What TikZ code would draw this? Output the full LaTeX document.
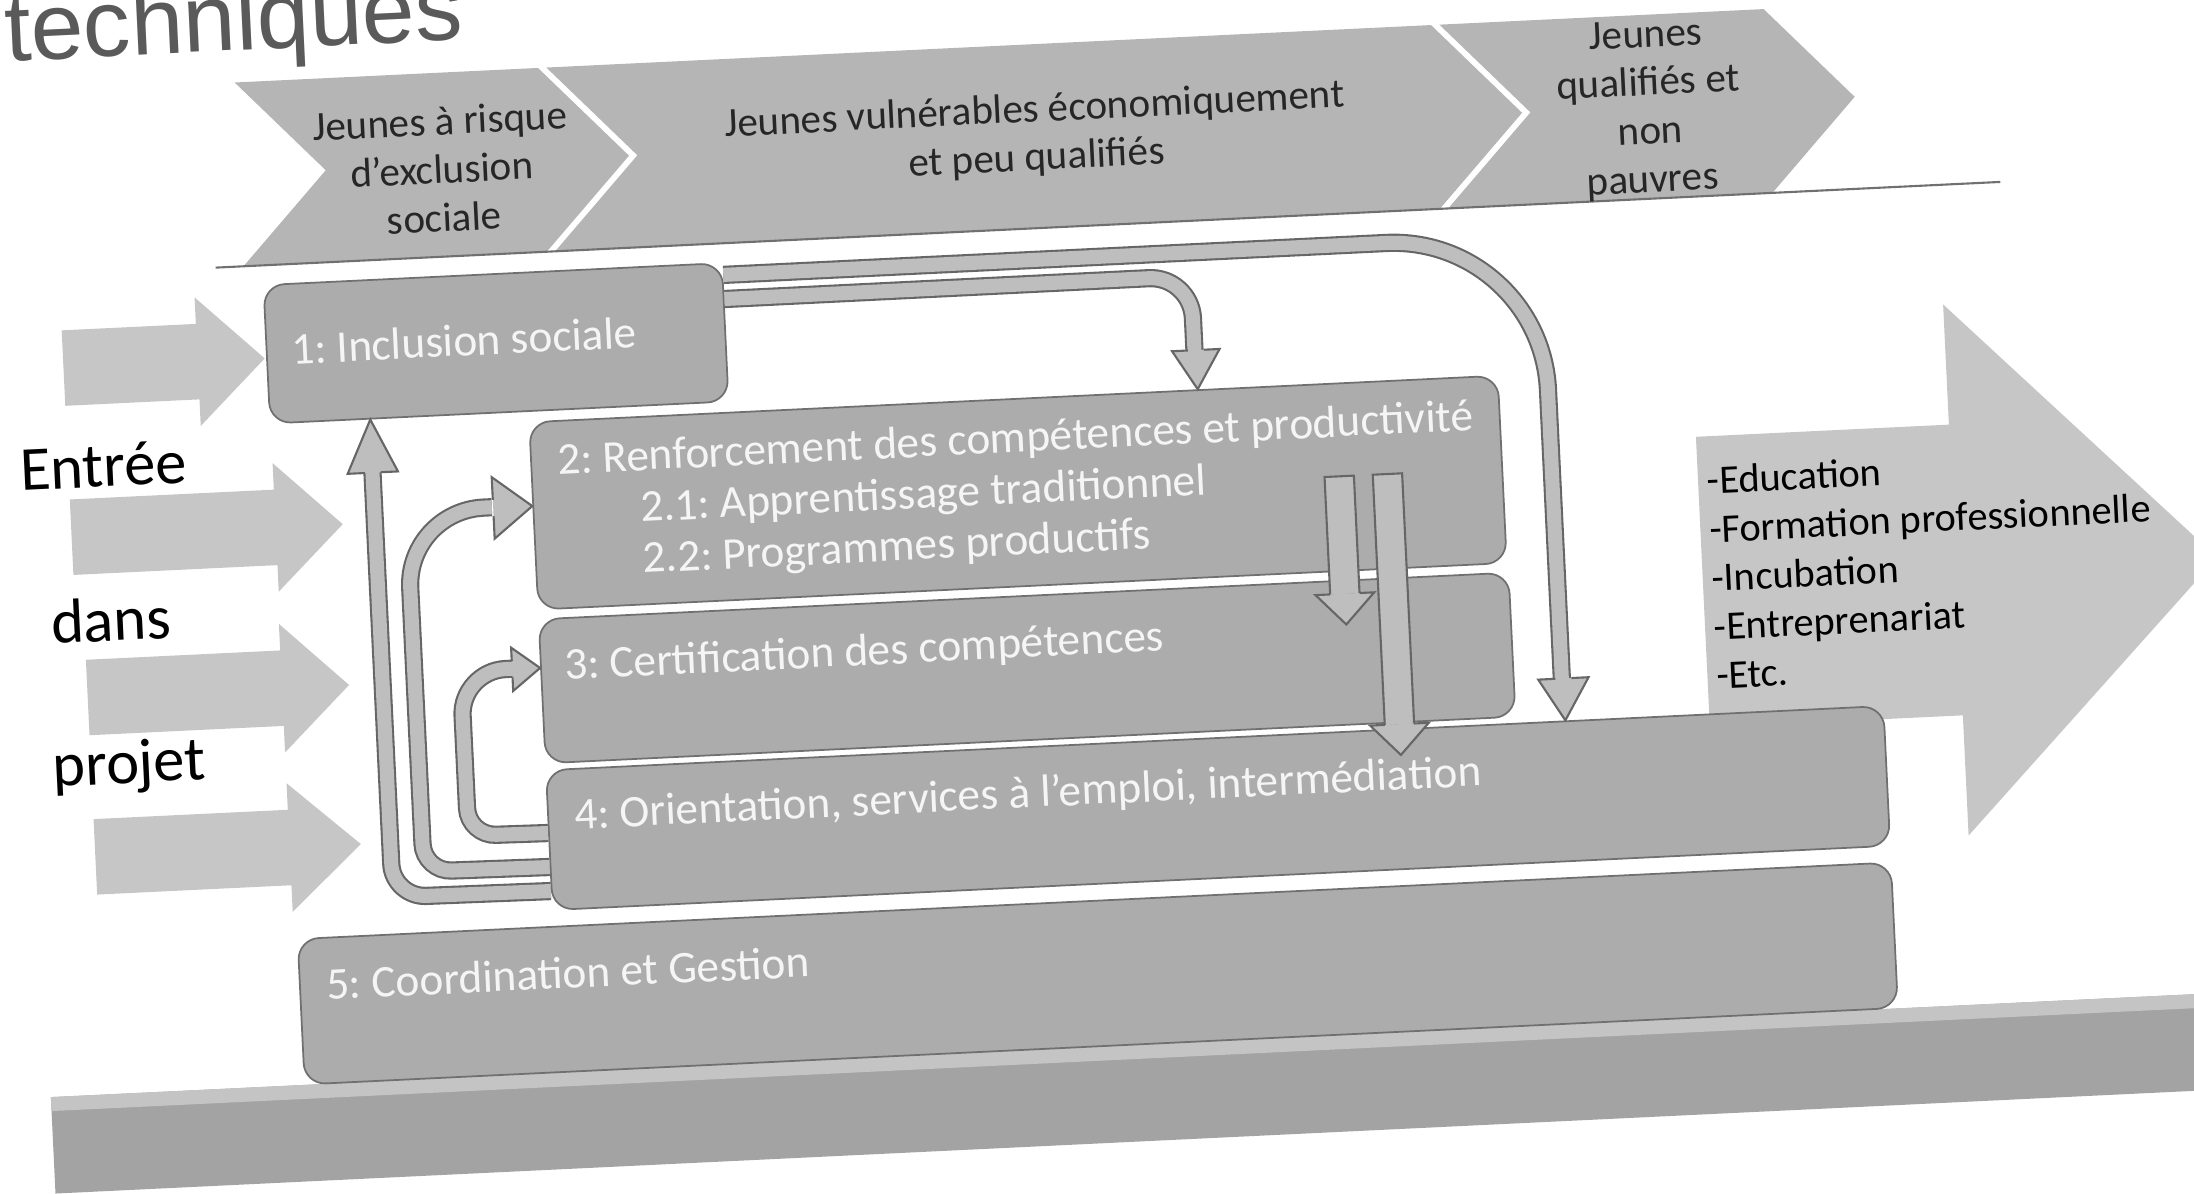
\documentclass[tikz,border=0pt]{standalone}
\usepackage{fontspec}
\setmainfont{Carlito}
\newfontfamily\titlefont{Liberation Sans}
\usetikzlibrary{calc}
\frenchspacing

\definecolor{boxfill}{HTML}{ACACAC}
\definecolor{boxline}{HTML}{707070}
\definecolor{chevfill}{HTML}{B5B5B5}
\definecolor{entryfill}{HTML}{C6C6C6}
\definecolor{outfill}{HTML}{C6C6C6}
\definecolor{bandfill}{HTML}{BEBEBE}
\definecolor{bandline}{HTML}{666666}
\definecolor{plankfill}{HTML}{A3A3A3}
\definecolor{planktop}{HTML}{C4C4C4}
\definecolor{titlegray}{HTML}{5A5A5A}
\definecolor{boxtext}{HTML}{F5F5F5}

\tikzset{
  box/.style={draw=boxline, fill=boxfill, line width=0.5pt, rounded corners=6pt, anchor=north west, inner sep=0pt},
  boxsize/.style 2 args={minimum width=#1*0.014cm, minimum height=#2*0.014cm},
  boxlabel/.style={anchor=west, inner sep=0pt, text=boxtext, align=left, font=\fontsize{12.9}{14.6}\selectfont},
  chevlabel/.style={align=center, inner sep=0pt, text=black!85, font=\fontsize{11.7}{13.8}\selectfont},
  band/.style={draw=bandline, line width=0.6pt, double=bandfill, double distance=4pt},
  head len/.store in=\hlen, head len=30,
  head wid/.store in=\hwid, head wid=36,
  shaft wid/.store in=\swid, shaft wid=11.5,
  ahead/.pic={
    \fill[bandfill] (0,0) -- (-\hlen,\hwid/2) -- (-\hlen,-\hwid/2) -- cycle;
    \draw[bandline, line width=0.6pt, line join=miter] (-\hlen,\swid/2) -- (-\hlen,\hwid/2) -- (0,0) -- (-\hlen,-\hwid/2) -- (-\hlen,-\swid/2);
  }
}

\begin{document}
\begin{tikzpicture}[x=0.014cm, y=-0.014cm]
  \useasboundingbox (0,0) rectangle (1568,853);
  \clip (0,0) rectangle (1568,853);

  \begin{scope}[rotate around={2.75:(780,426)}, transform shape]
    % Bottom plank
    \fill[plankfill] (20,748) rectangle (1700,817);
    \fill[planktop] (20,748) rectangle (1700,758);

    % Title left over from the slide
    \node[anchor=base west, inner sep=0pt, text=titlegray, font=\titlefont\fontsize{27}{30}\selectfont] (title) at (23,7) {techniques};

    % Entry arrows on the left
    \foreach \xa/\xb/\xc/\yc in {54/150/198/228, 54/200/248/349, 60/199/247/464, 60/199/250/578}
      \fill[entryfill] (\xa,\yc-27) -- (\xb,\yc-27) -- (\xb,\yc-46) -- (\xc,\yc) -- (\xb,\yc+46) -- (\xb,\yc+27) -- (\xa,\yc+27) -- cycle;

    % Exit arrow on the right
    \fill[outfill] (1217,333) -- (1398,333) -- (1398,247) -- (1585,437) -- (1398,627) -- (1398,541) -- (1217,541) -- cycle;

    % Chevrons with the target groups
    \fill[chevfill] (186,30) -- (403,30) -- (465,95.75) -- (403,161.5) -- (186,161.5) -- (248,95.75) -- cycle;
    \fill[chevfill] (409,30) -- (1042,30) -- (1104,95.75) -- (1042,161.5) -- (409,161.5) -- (471,95.75) -- cycle;
    \fill[chevfill] (1048,30) -- (1280,30) -- (1342,95.75) -- (1280,161.5) -- (1048,161.5) -- (1110,95.75) -- cycle;
    \draw[boxline, line width=0.6pt] (166,161.5) -- (1443,161.5);

    \node[chevlabel] (seg1) at (331,99) {Jeunes à risque\\d’exclusion\\sociale};
    \node[chevlabel] (seg2) at (756,95) {Jeunes vulnérables économiquement\\et peu qualifiés};
    \node[chevlabel] (seg3) at (1195,98) {Jeunes\\qualifiés et\\non\\pauvres};

    % Components
    \node[box, boxsize={328}{99}] (incl) at (199,175) {};
    \node[box, boxsize={693}{134}] (renfo) at (384,282) {};
    \node[box, boxsize={694}{103}] (cert) at (384,423) {};
    \node[box, boxsize={957}{100}] (orient) at (384,531) {};
    \node[box, boxsize={1140}{104}] (coord) at (201,643) {};

    \node[boxlabel] (incltext) at (217,222) {1: Inclusion sociale};
    \node[boxlabel] (renfotext) at (403,349) {2: Renforcement des compétences et productivité\\\hspace*{23pt}2.1: Apprentissage traditionnel\\\hspace*{23pt}2.2: Programmes productifs};
    \node[boxlabel] (certtext) at (401,459) {3: Certification des compétences};
    \node[boxlabel] (orienttext) at (403,566) {4: Orientation, services à l’emploi, intermédiation};
    \node[boxlabel] (coordtext) at (220,677) {5: Coordination et Gestion};

    % Arrows leaving inclusion sociale
    \draw[band, rounded corners=44pt] ($(incl.north east)!0.0909!(incl.south east)$) -- (1113,184) -- (1113,502);
    \pic[rotate=-90, head len=30, head wid=36] at ($(orient.north west)!0.762!(orient.north east)$) {ahead};
    \draw[band, rounded corners=12pt] ($(incl.north east)!0.263!(incl.south east)$) -- (862,201) -- (862,255);
    \pic[rotate=-90, head len=28, head wid=34] at ($(renfo.north west)!0.69!(renfo.north east)$) {ahead};

    % Arrows leaving orientation on the left
    \draw[band, rounded corners=9.5pt] ($(orient.north west)!0.86!(orient.south west)$) -- (271,617) -- (271,311);
    \pic[rotate=90, head len=38, head wid=36] at ($(incl.south west)!0.2195!(incl.south east)$) {ahead};
    \draw[band] ($(orient.north west)!0.69!(orient.south west)$) -- (314,600) .. controls (303,600) and (294,591) .. (294,580)
      -- (294,397) .. controls (294,366.6) and (318.6,342) .. (349,342) -- (355,342);
    \pic[head len=28, head wid=44] at ($(renfo.north west)!0.448!(renfo.south west)$) {ahead};
    \draw[band] ($(orient.north west)!0.45!(orient.south west)$) -- (347,576) .. controls (336,576) and (327,567) .. (327,556)
      -- (327,490) .. controls (327,472.3) and (341.7,458) .. (359,458) -- (365,458);
    \pic[head len=20, head wid=31] at ($(cert.north west)!0.34!(cert.south west)$) {ahead};

    % Straight arrows down from renforcement
    \draw[bandline, fill=bandfill, line width=0.6pt] (950.5,349) -- (971.5,349) -- (971.5,434) -- (950.5,434) -- cycle;
    \pic[rotate=-90, head len=22, head wid=42, shaft wid=21] at (961,455) {ahead};
    \draw[bandline, fill=bandfill, line width=0.6pt] (985,349) -- (1006,349) -- (1006,529) -- (985,529) -- cycle;
    \pic[rotate=-90, head len=22, head wid=42, shaft wid=21] at (995.5,550) {ahead};

    % Exits
    \node[anchor=west, align=left, inner sep=0pt, font=\fontsize{11.5}{13.9}\selectfont] (exits) at (1223,434) {-Education\\-Formation professionnelle\\-Incubation\\-Entreprenariat\\-Etc.};

    % Entry labels
    \node[anchor=west, inner sep=0pt, font=\fontsize{17.8}{20}\selectfont] (entree) at (19,299) {Entrée};
    \node[anchor=west, inner sep=0pt, font=\fontsize{17.8}{20}\selectfont] (dans) at (36,409) {dans};
    \node[anchor=west, inner sep=0pt, font=\fontsize{17.8}{20}\selectfont] (projet) at (32,515) {projet};
  \end{scope}
\end{tikzpicture}
\end{document}
